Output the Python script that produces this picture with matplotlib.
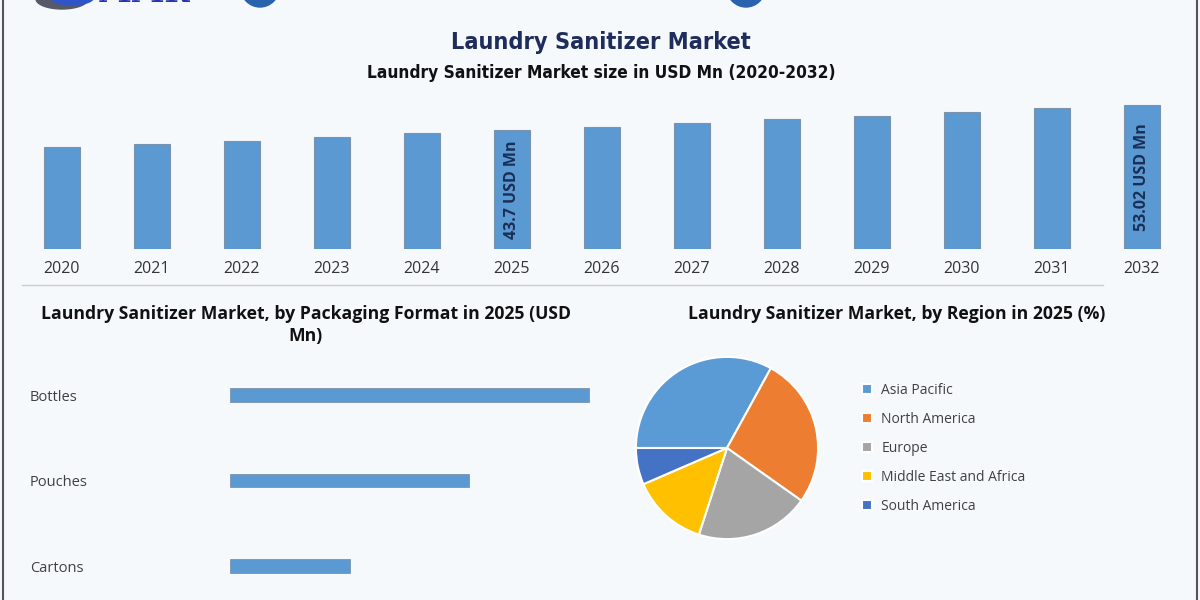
import matplotlib
matplotlib.use('Agg')
import matplotlib.pyplot as plt
from matplotlib import font_manager
from matplotlib.lines import Line2D
from matplotlib.patches import Ellipse

# data
years = ['2020', '2021', '2022', '2023', '2024', '2025', '2026',
         '2027', '2028', '2029', '2030', '2031', '2032']
market_size = [37.4, 38.7, 39.8, 41.2, 42.6, 43.7, 45.0,
               46.5, 47.9, 49.1, 50.5, 51.9, 53.02]
labelled_years = {'2025': '43.7 USD Mn', '2032': '53.02 USD Mn'}

packaging = ['Bottles', 'Pouches', 'Cartons']
packaging_values = [21.85, 14.57, 7.28]

regions = ['Asia Pacific', 'North America', 'Europe',
           'Middle East and Africa', 'South America']
region_share = [33.0, 26.8, 20.2, 13.5, 6.5]

W, H = 1200, 600
bg = '#f6f9fc'
bar_blue = '#5b99d2'
region_colors = ['#5b9bd5', '#ed7d31', '#a5a5a5', '#ffc000', '#4472c4']

plt.rcParams['font.family'] = ['Open Sans', 'DejaVu Sans']

# condensed bold for the two headings, if the condensed DejaVu files exist
cond = font_manager.FontProperties(family='DejaVu Sans', weight='bold', stretch='condensed')
has_cond = 'Condensed' in font_manager.findfont(cond)


def px(x, y, w, h):
    # pixel box (top-left origin) -> figure fraction rect
    return [x / W, 1 - (y + h) / H, w / W, h / H]


fig = plt.figure(figsize=(12, 6), dpi=100, facecolor=bg)

# frame lines and separator
fig.add_artist(Line2D([3 / W, 3 / W], [0, 1], color='#555555', lw=1.5))
fig.add_artist(Line2D([1197 / W, 1197 / W], [0, 1], color='#555555', lw=1.5))
fig.add_artist(Line2D([22 / W, 1103 / W], [1 - 285 / H] * 2, color='#c9ccd0', lw=1))

# bits of the logo strip cut off at the top
fig.add_artist(Ellipse((62 / W, 1 + 1 / H), 52 / W, 20 / H, color='#555a66'))
fig.add_artist(Ellipse((72 / W, 1 + 3 / H), 44 / W, 16 / H, color='#2f55c8'))
fig.text(98 / W, 1 - 9 / H, 'MMR', fontsize=22, fontweight='bold', family='DejaVu Serif',
         color='#2a35b5', va='bottom')
fig.add_artist(Ellipse((260 / W, 1 + 12 / H), 38 / W, 38 / H, color='#2a63ad'))
fig.add_artist(Ellipse((746 / W, 1 + 12 / H), 38 / W, 38 / H, color='#2a63ad'))

# titles
head = dict(family='DejaVu Sans', fontweight='bold',
            fontstretch='condensed' if has_cond else 'normal')
fig.text(601 / W, 1 - 42 / H, 'Laundry Sanitizer Market', fontsize=16.8 if has_cond else 15,
         color='#1f2d5c', ha='center', va='center', **head)
fig.text(601 / W, 1 - 73 / H, 'Laundry Sanitizer Market size in USD Mn (2020-2032)',
         fontsize=12.4 if has_cond else 11.4, color='#111111',
         ha='center', va='center', **head)

# market size bars
ax = fig.add_axes(px(17, 86, 1170, 162.5))
ax.set_facecolor('none')
xs = list(range(len(years)))
ax.bar(xs, market_size, width=0.4, color=bar_blue, edgecolor='#7b93ad', linewidth=0.8)
for x, yr, v in zip(xs, years, market_size):
    if yr in labelled_years:
        ax.text(x, v / 2, labelled_years[yr], rotation=90, ha='center', va='center',
                fontsize=11.5, fontweight='bold', color='#1a2f55')
ax.set_xlim(-0.5, len(years) - 0.5)
ax.set_ylim(0, 60)
ax.set_xticks(xs)
ax.set_xticklabels(years, fontsize=11.5, color='#333333')
ax.set_yticks([])
ax.tick_params(length=0, pad=9)
for s in ax.spines.values():
    s.set_visible(False)

# packaging format bars
fig.text(306 / W, 1 - 325 / H,
         'Laundry Sanitizer Market, by Packaging Format in 2025 (USD\nMn)',
         fontsize=12.7, fontweight='bold', color='#111111', ha='center', va='center',
         linespacing=1.25)
ax2 = fig.add_axes(px(230, 352.25, 394, 248))
ax2.set_facecolor('none')
ys = list(range(len(packaging)))
ax2.barh(ys, packaging_values, height=0.155, color=bar_blue, edgecolor='#7b93ad', linewidth=0.6)
ax2.set_xlim(0, 24)
ax2.set_ylim(2.4, -0.5)
ax2.set_xticks([])
ax2.set_yticks(ys)
ax2.set_yticklabels(packaging, fontsize=10.5, color='#404040')
ax2.tick_params(length=0, pad=200 * 0.72)
for t in ax2.get_yticklabels():
    t.set_ha('left')
for s in ax2.spines.values():
    s.set_visible(False)

# region pie
fig.text(897 / W, 1 - 314 / H, 'Laundry Sanitizer Market, by Region in 2025 (%)',
         fontsize=12.7, fontweight='bold', color='#111111', ha='center', va='center')
ax3 = fig.add_axes(px(635, 356, 184, 184))
wedges, _ = ax3.pie(region_share, colors=region_colors, startangle=180, counterclock=False,
                    radius=1, wedgeprops={'edgecolor': 'white', 'linewidth': 1.5})
ax3.set_xlim(-1.01, 1.01)
ax3.set_ylim(-1.01, 1.01)
fig.legend(wedges, regions, loc='upper left', bbox_to_anchor=(855 / W, 1 - 376 / H),
           frameon=False, fontsize=10, labelcolor='#404040', handlelength=0.75,
           handleheight=0.75, handletextpad=0.65, labelspacing=1.0, borderpad=0)

fig.savefig('out.png', dpi=100, facecolor=bg)
